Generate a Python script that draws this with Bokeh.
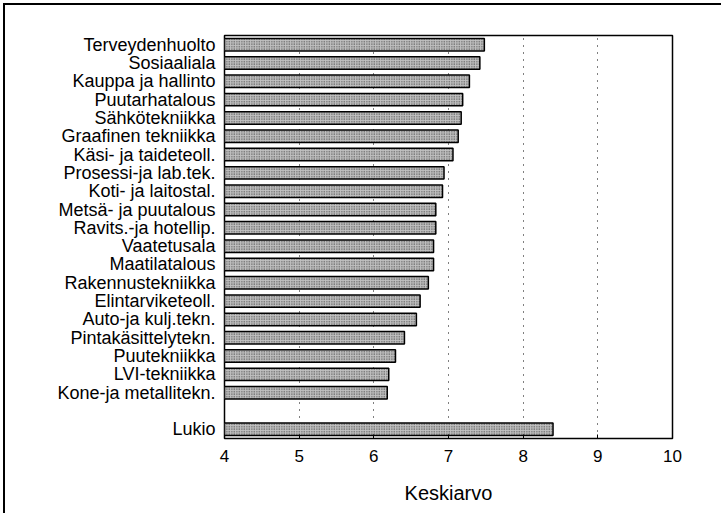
from bokeh.plotting import figure
from bokeh.models import FactorRange, Range1d, FixedTicker, ColumnDataSource, InlineStyleSheet
from bokeh.embed import file_html
from bokeh.resources import INLINE

categories = ["Terveydenhuolto", "Sosiaaliala", "Kauppa ja hallinto", "Puutarhatalous",
              "Sähkötekniikka", "Graafinen tekniikka", "Käsi- ja taideteoll.",
              "Prosessi-ja lab.tek.", "Koti- ja laitostal.", "Metsä- ja puutalous",
              "Ravits.-ja hotellip.", "Vaatetusala", "Maatilatalous", "Rakennustekniikka",
              "Elintarviketeoll.", "Auto-ja kulj.tekn.", "Pintakäsittelytekn.",
              "Puutekniikka", "LVI-tekniikka", "Kone-ja metallitekn.", "Lukio"]
values = [7.48, 7.42, 7.28, 7.19, 7.17, 7.13, 7.06, 6.94, 6.92, 6.83, 6.83,
          6.80, 6.80, 6.73, 6.62, 6.57, 6.41, 6.29, 6.20, 6.18, 8.40]
gap_factor = " "
x_ticks = [4, 5, 6, 7, 8, 9, 10]
x_label = "Keskiarvo"

factors = categories[:-1] + [gap_factor] + categories[-1:]
FONT = "Liberation Sans"

p = figure(width=718, height=510, output_backend="svg", toolbar_location=None,
           y_range=FactorRange(factors=list(reversed(factors))),
           x_range=Range1d(x_ticks[0], x_ticks[-1]),
           min_border_left=219, min_border_right=51, min_border_top=30, min_border_bottom=77)
p.stylesheets = [InlineStyleSheet(css=":host { margin-left: 3px; margin-top: 3px; "
                                      "border-top: 2px solid black; border-left: 2px solid black; }")]

src = ColumnDataSource(dict(cat=categories, val=values))
p.hbar(y="cat", right="val", left=x_ticks[0], height=0.68, source=src,
       fill_color="#c0c0c0", hatch_pattern="dot", hatch_color="#333333", hatch_scale=2.5,
       hatch_weight=1, line_color="black", line_width=1.5)

p.outline_line_color = "black"
p.outline_line_width = 1.5

p.xgrid.ticker = FixedTicker(ticks=x_ticks[1:-1])
p.xgrid.grid_line_color = "black"
p.xgrid.grid_line_dash = "1 6"
p.xgrid.grid_line_width = 1
p.ygrid.grid_line_color = None

xa = p.xaxis[0]
xa.ticker = FixedTicker(ticks=x_ticks)
xa.axis_line_color = None
xa.major_tick_in = 4
xa.major_tick_out = 0
xa.minor_tick_line_color = None
xa.major_label_standoff = 11
xa.major_label_text_font = FONT
xa.major_label_text_font_size = "17px"
xa.major_label_text_color = "black"
xa.axis_label = x_label
xa.axis_label_text_font = FONT
xa.axis_label_text_font_size = "20px"
xa.axis_label_text_font_style = "normal"
xa.axis_label_text_color = "black"
xa.axis_label_standoff = 17

ya = p.yaxis[0]
ya.axis_line_color = None
ya.major_tick_line_color = None
ya.minor_tick_line_color = None
ya.major_label_standoff = 3
ya.major_label_text_font = FONT
ya.major_label_text_font_size = "18px"
ya.major_label_text_color = "black"

open("out.html", "w").write(file_html(p, INLINE))
